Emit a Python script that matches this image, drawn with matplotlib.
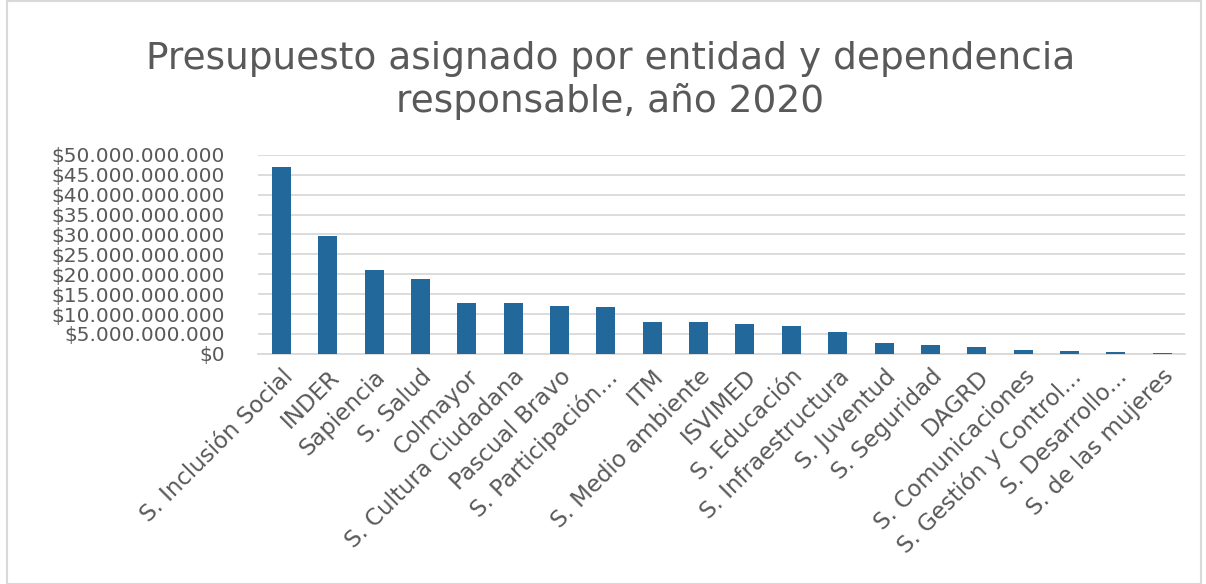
import matplotlib.pyplot as plt
from matplotlib.patches import Rectangle
from matplotlib.ticker import FuncFormatter

# Presupuesto por entidad (miles de millones de pesos)
entidades = [
    "S. Inclusión Social", "INDER", "Sapiencia", "S. Salud", "Colmayor",
    "S. Cultura Ciudadana", "Pascual Bravo", "S. Participación...", "ITM",
    "S. Medio ambiente", "ISVIMED", "S. Educación", "S. Infraestructura",
    "S. Juventud", "S. Seguridad", "DAGRD", "S. Comunicaciones",
    "S. Gestión y Control...", "S. Desarrollo...", "S. de las mujeres",
]
presupuesto_mm = [47.0, 29.7, 21.1, 18.7, 12.8, 12.7, 12.1, 11.8, 8.1, 7.9,
                  7.4, 6.9, 5.4, 2.7, 2.3, 1.8, 0.9, 0.75, 0.4, 0.25]
valores = [v * 1e9 for v in presupuesto_mm]

gris = "#595959"
azul = "#23689B"

plt.rcParams['font.family'] = ['DejaVu Sans']

fig = plt.figure(figsize=(12.06, 5.84), dpi=100)
ax = fig.add_axes([0.214, 0.394, 0.769, 0.341])

x = range(len(entidades))
ax.bar(x, valores, width=0.41, color=azul, zorder=3)

ax.set_ylim(0, 50e9)
ax.set_yticks([i * 5e9 for i in range(11)])
ax.yaxis.set_major_formatter(FuncFormatter(lambda v, p: "$" + f"{v:,.0f}".replace(",", ".")))
ax.set_xlim(-0.5, len(entidades) - 0.5)
ax.set_xticks(list(x))
ax.set_xticklabels(entidades, rotation=45, ha="right", rotation_mode="anchor")

ax.grid(axis="y", color="#D9D9D9", linewidth=1.3, zorder=0)
for s in ["top", "right", "left"]:
    ax.spines[s].set_visible(False)
ax.spines["bottom"].set_color("#D9D9D9")
ax.spines["bottom"].set_linewidth(1.3)
ax.tick_params(axis="x", length=0, labelsize=16.5, colors=gris, pad=8)
ax.tick_params(axis="y", length=0, labelsize=14.5, colors=gris, pad=24)

fig.suptitle("Presupuesto asignado por entidad y dependencia\nresponsable, año 2020",
             x=0.506, y=0.93, fontsize=27, color=gris, linespacing=1.2)

fig.patches.append(Rectangle((0.006, 0.0), 0.99, 0.998, transform=fig.transFigure,
                             fill=False, edgecolor="#D9D9D9", linewidth=1.5))

fig.savefig("out.png", dpi=100)
